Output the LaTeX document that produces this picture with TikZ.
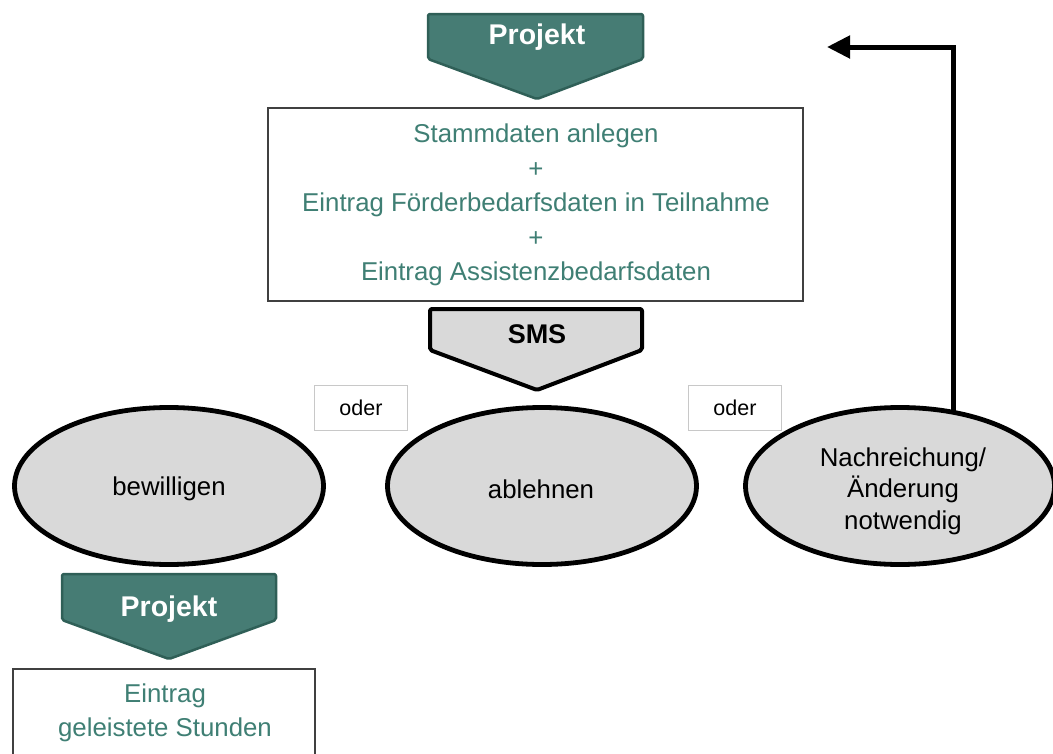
\documentclass[tikz,border=0pt]{standalone}
\usepackage{fontspec}
\setmainfont{Liberation Sans}
\usetikzlibrary{arrows.meta,calc,shapes.geometric}
\definecolor{tealfill}{HTML}{467C74}
\definecolor{tealdark}{HTML}{2F5F57}
\definecolor{tealtext}{HTML}{3F7F74}
\definecolor{lgray}{HTML}{D9D9D9}
\definecolor{oderline}{HTML}{C8C8C8}
\definecolor{boxline}{HTML}{404040}
\begin{document}
\begin{tikzpicture}[x=1pt,y=-1pt,
  chevteal/.style={fill=tealfill,draw=tealdark,line width=2.5pt,rounded corners=2pt,line join=round},
  chevgray/.style={fill=lgray,draw=black,line width=4pt,rounded corners=2pt,line join=round},
  chevlabelw/.style={text=white,font=\fontsize{28.5}{32}\selectfont\bfseries,inner sep=0pt},
  chevlabelb/.style={text=black,font=\fontsize{27}{30}\selectfont\bfseries,inner sep=0pt},
  oval/.style={ellipse,fill=lgray,draw=black,line width=4.8pt,minimum width=309pt,minimum height=157pt,inner sep=0pt},
  ovaltext/.style={font=\fontsize{25.8}{31.5}\selectfont,align=center,inner sep=0pt},
  infobox/.style={draw=boxline,line width=1.2pt,fill=white},
  infotext/.style={text=tealtext,font=\fontsize{25.8}{34.6}\selectfont,align=center,inner sep=0pt},
  oderbox/.style={draw=oderline,line width=0.8pt,fill=white,minimum width=93pt,minimum height=45pt,inner sep=0pt,font=\fontsize{21.5}{25}\selectfont},
  retarrow/.style={line width=5pt,-{Triangle[length=23pt,width=22pt]}}
]
\useasboundingbox (0,0) rectangle (1053,753);

% top Projekt chevron
\draw[chevteal] (428,14) -- (643,14) -- (643,59) -- (537,99) -- (428,59) -- cycle;
\node[chevlabelw] (p1) at (537,37) {Projekt};

% main box
\draw[infobox] (268,108) rectangle (803,301);
\node[infotext] (info) at (536,205) {Stammdaten anlegen\\+\\Eintrag Förderbedarfsdaten in Teilnahme\\+\\Eintrag Assistenzbedarfsdaten};

% SMS chevron
\draw[chevgray] (430,309) -- (642,309) -- (642,350) -- (537,390) -- (430,350) -- cycle;
\node[chevlabelb] (sms) at (537,334) {SMS};

% oder boxes
\node[oderbox] (o1) at (361,408) {oder};
\node[oderbox] (o2) at (735,408) {oder};

% ellipses
\node[oval] (bew) at (169,486) {};
\node[ovaltext] (bewt) at (169,489) {bewilligen};
\node[oval] (abl) at (542,486) {};
\node[ovaltext] (ablt) at (541,489) {ablehnen};
\node[oval] (nach) at (900,486) {};
\node[ovaltext] (nacht) at (903,491) {Nachreichung/\\Änderung\\notwendig};

% return arrow
\coordinate (ret) at (827,47);
\draw[retarrow] ([xshift=53pt,yshift=-6pt]nach.north) |- (ret);

% bottom Projekt chevron
\draw[chevteal] (62,574) -- (276,574) -- (276,620) -- (169,659) -- (62,620) -- cycle;
\node[chevlabelw] (p2) at (169,609) {Projekt};

% bottom box
\draw[infobox] (13,669) rectangle (315,760);
\node[infotext] (eintr) at (165,713) {Eintrag\\geleistete Stunden};
\end{tikzpicture}
\end{document}
